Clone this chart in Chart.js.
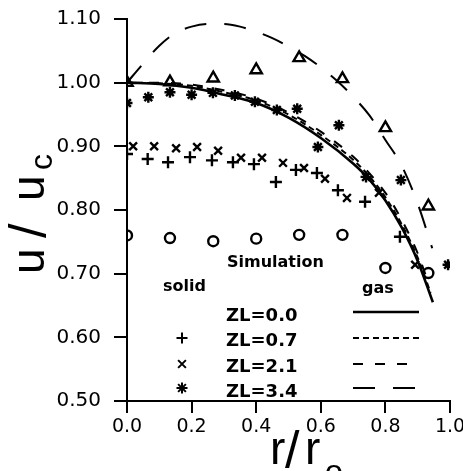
<!DOCTYPE html>
<html>
<head>
<meta charset="utf-8">
<script src="https://cdn.jsdelivr.net/npm/chart.js@4.4.1/dist/chart.umd.min.js"></script>
<style>
  body { margin: 0; background: #fff; }
  #wrap { width: 463px; height: 471px; position: relative; }
</style>
</head>
<body>
<div id="wrap"><canvas id="profileChart" width="463" height="471"></canvas></div>
<script>
// Axis ticks
const xTickValues = [0.0, 0.2, 0.4, 0.6, 0.8, 1.0];
const xTickLabels = ['0.0', '0.2', '0.4', '0.6', '0.8', '1.0'];
const yTickValues = [0.5, 0.6, 0.7, 0.8, 0.9, 1.0, 1.1];
const yTickLabels = ['0.50', '0.60', '0.70', '0.80', '0.90', '1.00', '1.10'];

// Measured points (solid phase)
const rCircle = [0, 0.133, 0.267, 0.4, 0.533, 0.667, 0.8, 0.933];
const uCircle = [0.760, 0.756, 0.751, 0.755, 0.761, 0.761, 0.709, 0.701];
const rTriangle = [0, 0.133, 0.267, 0.4, 0.533, 0.667, 0.8, 0.933];
const uTriangle = [1.000, 1.001, 1.007, 1.020, 1.039, 1.006, 0.929, 0.806];
const rPlus = [0, 0.064, 0.127, 0.195, 0.263, 0.328, 0.393, 0.461, 0.523, 0.588, 0.653, 0.737, 0.845];
const uPlus = [0.888, 0.880, 0.875, 0.883, 0.878, 0.875, 0.872, 0.844, 0.863, 0.858, 0.831, 0.813, 0.758];
const rCross = [0.019, 0.084, 0.152, 0.217, 0.282, 0.353, 0.418, 0.483, 0.548, 0.613, 0.681, 0.78, 0.892];
const uCross = [0.900, 0.900, 0.897, 0.899, 0.893, 0.882, 0.882, 0.874, 0.866, 0.849, 0.819, 0.827, 0.714];
const rStar = [0, 0.066, 0.133, 0.2, 0.266, 0.334, 0.396, 0.464, 0.527, 0.591, 0.656, 0.74, 0.848, 0.994];
const uStar = [0.968, 0.977, 0.985, 0.981, 0.984, 0.980, 0.970, 0.957, 0.959, 0.899, 0.933, 0.852, 0.847, 0.714];

// Simulation curves (gas phase)
const rSim00 = [0, 0.1, 0.2, 0.3, 0.4, 0.5, 0.6, 0.7, 0.75, 0.8, 0.85, 0.9, 0.947];
const uSim00 = [1.000, 0.998, 0.992, 0.981, 0.968, 0.945, 0.913, 0.873, 0.848, 0.815, 0.773, 0.720, 0.655];
const rSim07 = [0, 0.1, 0.2, 0.3, 0.4, 0.5, 0.6, 0.7, 0.75, 0.8, 0.85, 0.9, 0.94];
const uSim07 = [1.000, 0.999, 0.995, 0.985, 0.972, 0.950, 0.918, 0.879, 0.853, 0.820, 0.778, 0.725, 0.670];
const rSim21 = [0, 0.1, 0.2, 0.3, 0.4, 0.5, 0.6, 0.7, 0.75, 0.8, 0.85, 0.9, 0.93];
const uSim21 = [1.000, 1.000, 0.997, 0.988, 0.975, 0.953, 0.923, 0.884, 0.858, 0.827, 0.785, 0.732, 0.690];
const rSim34 = [0, 0.05, 0.1, 0.15, 0.2, 0.25, 0.3, 0.35, 0.4, 0.45, 0.5, 0.55, 0.6, 0.65, 0.7, 0.75, 0.8, 0.85, 0.9, 0.945];
const uSim34 = [1.000, 1.030, 1.058, 1.078, 1.088, 1.092, 1.092, 1.088, 1.080, 1.070, 1.057, 1.042, 1.024, 1.003, 0.978, 0.949, 0.910, 0.870, 0.810, 0.740];

const legendNames = ['ZL=0.0', 'ZL=0.7', 'ZL=2.1', 'ZL=3.4'];

const pts = (xs, ys) => xs.map((x, i) => ({ x: x, y: ys[i] }));

function markerSet(xs, ys, style, radius) {
    return {
        data: pts(xs, ys),
        showLine: false,
        pointStyle: style,
        pointRadius: radius,
        pointBorderWidth: 2.4,
        pointBorderColor: '#000',
        pointBackgroundColor: 'rgba(0,0,0,0)'
    };
}

function curveSet(xs, ys, dash, width) {
    return {
        data: pts(xs, ys),
        showLine: true,
        borderColor: '#000',
        borderWidth: width,
        borderDash: dash,
        pointRadius: 0,
        cubicInterpolationMode: 'monotone',
        fill: false
    };
}

const dashes = [[], [6, 4], [10, 12], [22, 18]];

// Legend and axis titles drawn on the canvas
const extras = {
    id: 'extras',
    afterDraw(chart) {
        const ctx = chart.ctx;
        ctx.save();
        ctx.fillStyle = '#000';
        ctx.strokeStyle = '#000';
        ctx.textBaseline = 'middle';
        ctx.textAlign = 'left';

        ctx.font = 'bold 16px "DejaVu Sans"';
        ctx.fillText('Simulation', 227, 263);
        ctx.fillText('solid', 163, 287);
        ctx.fillText('gas', 362, 289);

        const rowY = [316, 341, 367, 392];
        const lineY = [312, 338, 364, 388];
        const styles = [null, 'cross', 'crossRot', 'star'];
        ctx.font = 'bold 18px "DejaVu Sans"';
        legendNames.forEach((name, i) => {
            ctx.fillText(name, 226, rowY[i]);
            ctx.beginPath();
            ctx.lineWidth = i === 0 ? 2.5 : 2;
            ctx.setLineDash(dashes[i]);
            ctx.moveTo(353, lineY[i]);
            ctx.lineTo(419, lineY[i]);
            ctx.stroke();
            ctx.setLineDash([]);
            if (styles[i]) {
                Chart.helpers.drawPoint(ctx, { pointStyle: styles[i], radius: 5.5, rotation: 0, borderWidth: 2.4 }, 182, lineY[i]);
            }
        });

        // x title r/r_o
        ctx.textBaseline = 'alphabetic';
        ctx.font = '46px "Liberation Sans"';
        ctx.fillText('r', 270, 464);
        ctx.font = '52px "Liberation Sans"';
        ctx.fillText('/', 285, 468);
        ctx.font = '46px "Liberation Sans"';
        ctx.fillText('r', 305, 464);
        ctx.font = '32px "Liberation Sans"';
        ctx.fillText('o', 325, 482);

        // y title u/u_c (rotated)
        ctx.translate(44, 0);
        ctx.rotate(-Math.PI / 2);
        ctx.font = '46px "Liberation Sans"';
        ctx.fillText('u', -274, 0);
        ctx.font = '52px "Liberation Sans"';
        ctx.fillText('/', -238, 2);
        ctx.font = '46px "Liberation Sans"';
        ctx.fillText('u', -201, 0);
        ctx.font = '32px "Liberation Sans"';
        ctx.fillText('c', -170, 8);
        ctx.restore();
    }
};

const ctx = document.getElementById('profileChart').getContext('2d');
new Chart(ctx, {
    type: 'scatter',
    data: {
        datasets: [
            markerSet(rCircle, uCircle, 'circle', 5),
            markerSet(rTriangle, uTriangle, 'triangle', 6.5),
            markerSet(rPlus, uPlus, 'cross', 6),
            markerSet(rCross, uCross, 'crossRot', 5.5),
            markerSet(rStar, uStar, 'star', 5.5),
            curveSet(rSim00, uSim00, dashes[0], 2.6),
            curveSet(rSim07, uSim07, dashes[1], 2),
            curveSet(rSim21, uSim21, dashes[2], 2),
            curveSet(rSim34, uSim34, dashes[3], 2)
        ]
    },
    options: {
        responsive: false,
        animation: false,
        layout: { padding: { left: 0, top: 19, right: 0, bottom: 0 } },
        plugins: {
            legend: { display: false },
            tooltip: { enabled: false }
        },
        scales: {
            x: {
                type: 'linear',
                min: 0,
                max: 1.0,
                afterBuildTicks: axis => { axis.ticks = xTickValues.map(v => ({ value: v })); },
                afterFit: axis => { axis.height = 70; axis.paddingRight = 13; axis.paddingLeft = 0; },
                ticks: {
                    callback: (v, i) => xTickLabels[i],
                    color: '#000',
                    font: { family: 'DejaVu Sans', size: 19 },
                    padding: 3,
                    maxRotation: 0
                },
                grid: { drawOnChartArea: false, drawTicks: true, tickLength: 12, color: '#000', lineWidth: 2 },
                border: { display: true, color: '#000', width: 2 }
            },
            y: {
                type: 'linear',
                min: 0.5,
                max: 1.1,
                afterBuildTicks: axis => { axis.ticks = yTickValues.map(v => ({ value: v })); },
                afterFit: axis => { axis.width = 127; axis.paddingTop = 0; },
                ticks: {
                    callback: (v, i) => yTickLabels[i],
                    color: '#000',
                    font: { family: 'DejaVu Sans', size: 20 },
                    padding: 13
                },
                grid: { drawOnChartArea: false, drawTicks: true, tickLength: 13, color: '#000', lineWidth: 2 },
                border: { display: true, color: '#000', width: 2 }
            }
        }
    },
    plugins: [extras]
});
</script>
</body>
</html>
